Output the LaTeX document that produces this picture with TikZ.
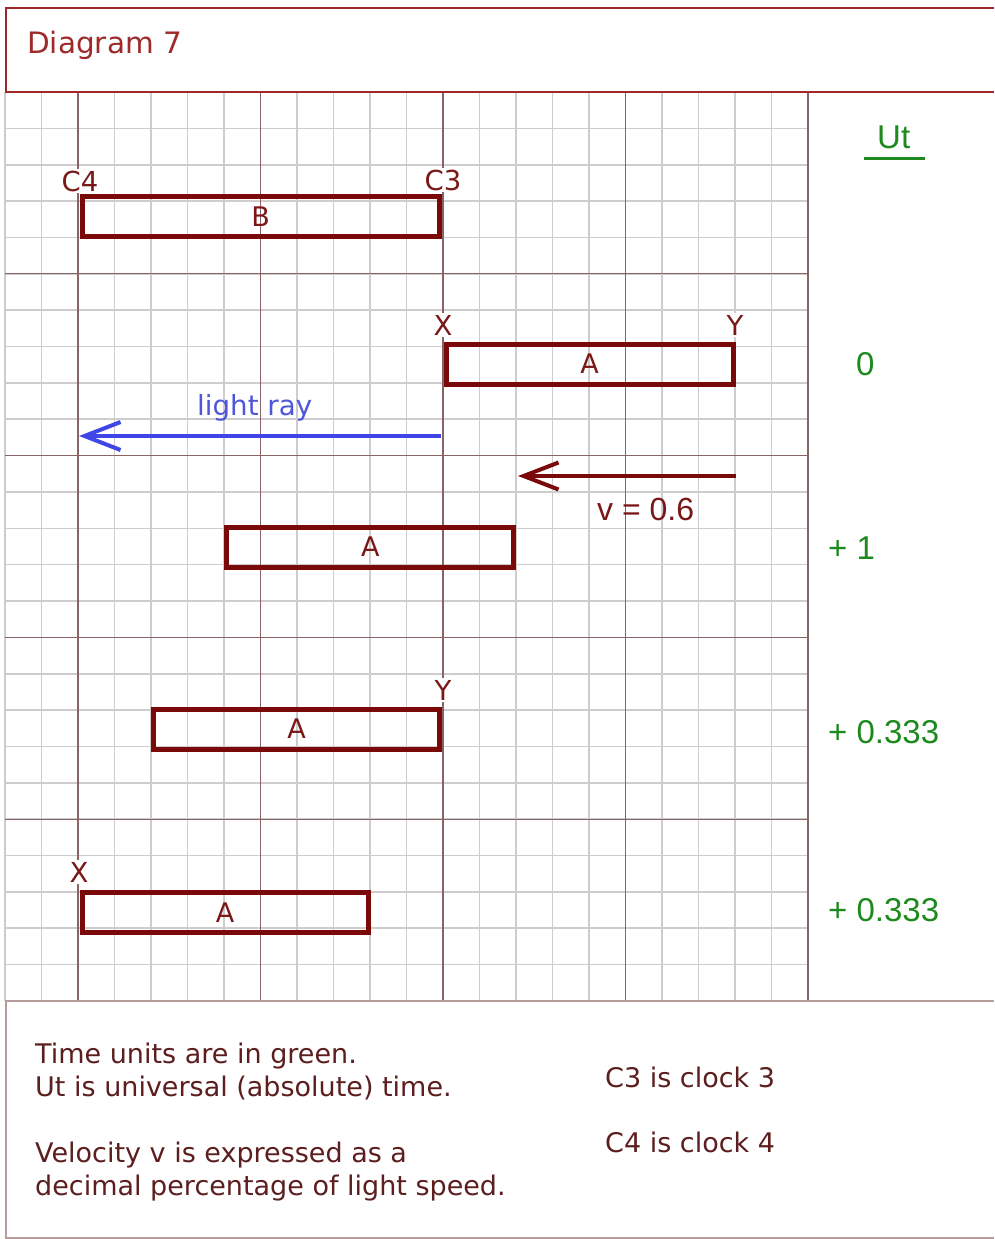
\documentclass[tikz,border=0pt]{standalone}
\usepackage{fontspec}
\setmainfont{DejaVu Sans}
\newfontfamily\arialf{Liberation Sans}
\usetikzlibrary{arrows.meta}
\definecolor{titlered}{RGB}{158,42,42}
\definecolor{framered}{RGB}{160,40,40}
\definecolor{barred}{RGB}{122,10,10}
\definecolor{labred}{RGB}{122,24,24}
\definecolor{raycol}{RGB}{64,70,230}
\definecolor{raytext}{RGB}{78,86,218}
\definecolor{utgreen}{RGB}{30,138,30}
\definecolor{notecol}{RGB}{92,30,30}
\definecolor{minorcol}{RGB}{206,204,204}
\definecolor{majorcol}{RGB}{136,100,100}
\definecolor{boxcol}{RGB}{184,156,156}
\tikzset{
  minorline/.style={draw=minorcol, line width=1.6pt},
  majorline/.style={draw=majorcol, line width=1.3pt},
  titleframe/.style={draw=framered, line width=1.6pt},
  bottomframe/.style={draw=boxcol, line width=1.6pt},
  bar/.style={draw=barred, line width=5pt, inner sep=0pt, minimum height=40pt,
    text=labred, font=\fontsize{27}{30}\selectfont},
  lab/.style={text=labred, fill=white, inner sep=1.5pt, font=\fontsize{27.5}{30}\selectfont},
  raystyle/.style={draw=raycol, line width=4pt, -{Straight Barb[length=36pt,width=28pt]}},
  vstyle/.style={draw=barred, line width=4pt, -{Straight Barb[length=35pt,width=27pt]}},
  greentext/.style={text=utgreen, inner sep=0pt, anchor=base west, font=\arialf\fontsize{33}{38}\selectfont},
  note/.style={text=notecol, inner sep=0pt, anchor=base west, font=\fontsize{27}{30}\selectfont},
}
\begin{document}
\begin{tikzpicture}[x=1pt,y=-1pt]
\useasboundingbox (0,0) rectangle (994,1239);
\fill[white] (0,0) rectangle (994,1239);
% grid
\foreach \k in {-2,...,20} \draw[minorline] ({78+36.5*\k},92) -- ({78+36.5*\k},1001);
\foreach \j in {0,...,25} \draw[minorline] (5,{92+36.36*\j}) -- (808,{92+36.36*\j});
\foreach \x in {78,260.5,443,625.5,808} \draw[majorline] (\x,92) -- (\x,1001);
\foreach \m in {1,...,4} \draw[majorline] (5,{92+181.8*\m}) -- (808,{92+181.8*\m});
% frames
\draw[titleframe] (994,8) -- (6,8) -- (6,92) -- (994,92);
\draw[bottomframe] (994,1001) -- (6,1001) -- (6,1238) -- (994,1238);
\node[text=titlered, inner sep=0pt, anchor=base west, font=\fontsize{29.5}{34}\selectfont] (title) at (27,54) {Diagram 7};
% bars
\node[bar, minimum width=357.5pt] (B) at (260.75,216.75) {B};
\node[bar, minimum width=287pt] (A1) at (589.5,364) {A};
\node[bar, minimum width=286.7pt] (A2) at (370.3,547) {A};
\node[bar, minimum width=286pt] (A3) at (296.7,729) {A};
\node[bar, minimum width=286pt] (A4) at (225,912.5) {A};
% labels
\node[lab] (C4) at (80,181) {C4};
\node[lab] (C3) at (443,180) {C3};
\node[lab] (X1) at (443,325) {X};
\node[lab] (Y1) at (735,325) {Y};
\node[lab] (Y3) at (443,690) {Y};
\node[lab] (X4) at (79,872) {X};
% light ray
\coordinate (rayS) at (441,436);
\coordinate (rayE) at (79,436);
\draw[raystyle] (rayS) -- (rayE);
\node[text=raytext, inner sep=0pt, anchor=base west, font=\fontsize{27.7}{32}\selectfont] (raylab) at (197,415) {light ray};
% velocity arrow
\coordinate (vS) at (736,476);
\coordinate (vE) at (518,476);
\draw[vstyle] (vS) -- (vE);
\node[text=labred, inner sep=0pt, anchor=base west, font=\arialf\fontsize{32}{36}\selectfont] (vlab) at (597,520) {v = 0.6};
% Ut column
\node[greentext] (Ut) at (877,148) {Ut};
\coordinate (ulL) at (864,158);
\coordinate (ulR) at (925,158);
\draw[draw=utgreen, line width=3pt] (ulL) -- (ulR);
\node[greentext] (t0) at (856,375) {0};
\node[greentext] (t1) at (828,559) {+ 1};
\node[greentext] (t2) at (828,743) {+ 0.333};
\node[greentext] (t3) at (828,921.7) {+ 0.333};
% notes
\node[note] (n1) at (35,1063) {Time units are in green.};
\node[note] (n2) at (35,1096) {Ut is universal (absolute) time.};
\node[note] (n3) at (35,1162) {Velocity v is expressed as a};
\node[note] (n4) at (35,1195) {decimal percentage of light speed.};
\node[note] (c3n) at (605,1087) {C3 is clock 3};
\node[note] (c4n) at (605,1152) {C4 is clock 4};
\end{tikzpicture}
\end{document}
